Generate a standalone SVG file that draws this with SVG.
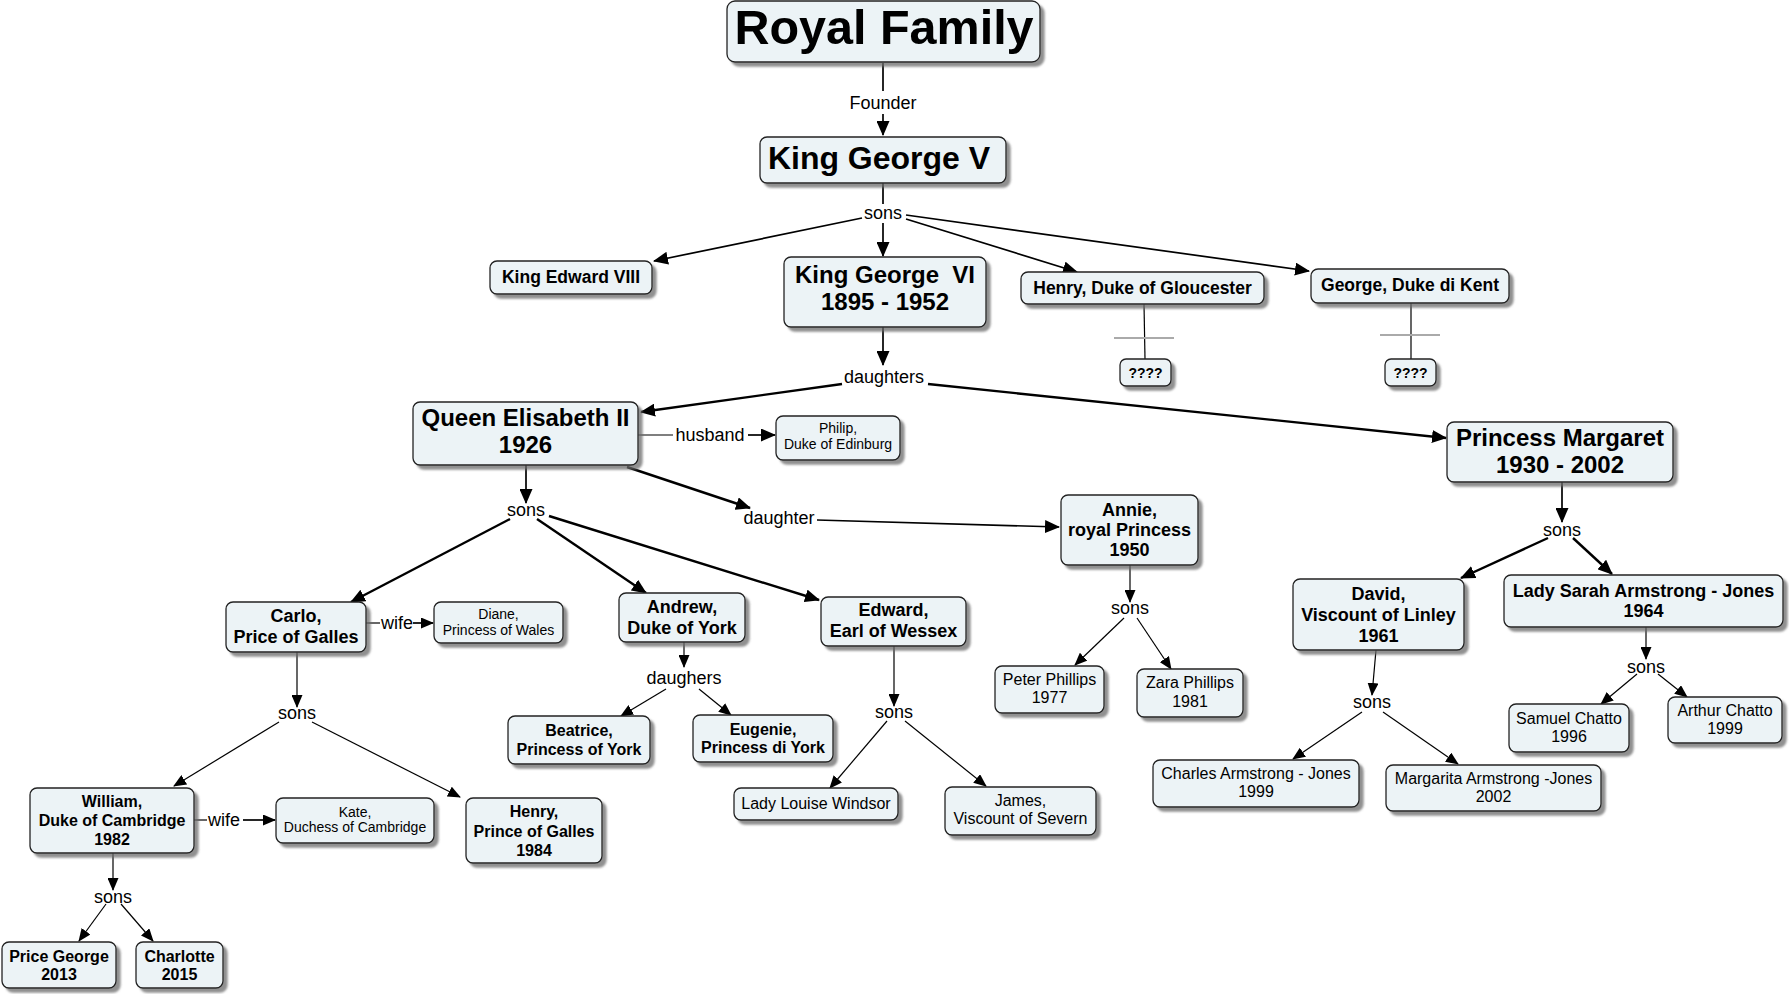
<svg xmlns="http://www.w3.org/2000/svg" width="1789" height="994" viewBox="0 0 1789 994">
<defs>
<filter id="sh" x="-10%" y="-10%" width="130%" height="140%">
<feDropShadow dx="4" dy="4" stdDeviation="1" flood-color="#6a6a6a" flood-opacity="0.75"/>
</filter>
<marker id="ah" markerUnits="userSpaceOnUse" markerWidth="15" markerHeight="13" refX="14" refY="6.5" orient="auto"><path d="M0,0 L15,6.5 L0,13 z" fill="#000"/></marker>
<marker id="as" markerUnits="userSpaceOnUse" markerWidth="13" markerHeight="11" refX="12" refY="5.5" orient="auto"><path d="M0,0 L13,5.5 L0,11 z" fill="#000"/></marker>
<style>
.n rect{fill:#ecf3f6;stroke:#222;stroke-width:1.3;filter:url(#sh)}
text{font-family:"Liberation Sans",Arial,sans-serif;text-anchor:middle;fill:#000}
.b{font-weight:bold}
.l{font-size:18px}
.c line{stroke:#000;fill:none}
.t1{stroke-width:1.2}
.t2{stroke-width:1.7}
.t3{stroke-width:2.4}
.g{stroke:#aaa !important;stroke-width:2}
.ma{marker-end:url(#ah)}
.ms{marker-end:url(#as)}
</style>
</defs>
<rect width="1789" height="994" fill="#fff"/>
<g id="connectors" class="c">
<line class="t2" x1="883" y1="63" x2="883" y2="91"/>
<line class="t2 ma" x1="883" y1="114" x2="883" y2="135"/>
<line class="t2" x1="883" y1="183" x2="883" y2="204"/>
<line class="t2 ma" x1="862" y1="218" x2="654" y2="261"/>
<line class="t2 ma" x1="883" y1="223" x2="883" y2="256"/>
<line class="t2 ma" x1="906" y1="219" x2="1077" y2="272"/>
<line class="t2 ma" x1="906" y1="215" x2="1309" y2="271"/>
<line class="t1" x1="1144" y1="304" x2="1145" y2="359"/>
<line class="g" x1="1114" y1="338" x2="1174" y2="338"/>
<line class="t1" x1="1411" y1="303" x2="1411" y2="359"/>
<line class="g" x1="1380" y1="335" x2="1440" y2="335"/>
<line class="t2 ma" x1="883" y1="327" x2="883" y2="365"/>
<line class="t3 ma" x1="842" y1="384" x2="641" y2="412"/>
<line class="t3 ma" x1="928" y1="384" x2="1446" y2="438"/>
<line class="t1" x1="638" y1="435" x2="673" y2="435"/>
<line class="t2 ma" x1="748" y1="435" x2="775" y2="435"/>
<line class="t2 ma" x1="526" y1="465" x2="526" y2="503"/>
<line class="t3 ma" x1="627" y1="467" x2="750" y2="508"/>
<line class="t2 ma" x1="817" y1="520" x2="1059" y2="527"/>
<line class="t3 ma" x1="510" y1="519" x2="351" y2="602"/>
<line class="t3 ma" x1="537" y1="519" x2="646" y2="593"/>
<line class="t3 ma" x1="549" y1="516" x2="819" y2="600"/>
<line class="t2 ma" x1="1562" y1="482" x2="1562" y2="522"/>
<line class="t3 ma" x1="1548" y1="538" x2="1461" y2="578"/>
<line class="t3 ma" x1="1573" y1="538" x2="1612" y2="574"/>
<line class="t1" x1="366" y1="623" x2="380" y2="623"/>
<line class="t2 ms" x1="413" y1="623" x2="433" y2="623"/>
<line class="t1 ms" x1="297" y1="652" x2="297" y2="707"/>
<line class="t1 ms" x1="279" y1="722" x2="174" y2="786"/>
<line class="t1 ms" x1="312" y1="722" x2="460" y2="797"/>
<line class="t1 ms" x1="684" y1="642" x2="684" y2="667"/>
<line class="t1 ms" x1="666" y1="689" x2="621" y2="716"/>
<line class="t1 ms" x1="699" y1="689" x2="731" y2="715"/>
<line class="t1 ms" x1="894" y1="646" x2="894" y2="706"/>
<line class="t1 ms" x1="887" y1="721" x2="830" y2="788"/>
<line class="t1 ms" x1="905" y1="721" x2="986" y2="786"/>
<line class="t1 ms" x1="1130" y1="565" x2="1130" y2="602"/>
<line class="t1 ms" x1="1124" y1="618" x2="1075" y2="665"/>
<line class="t1 ms" x1="1137" y1="618" x2="1171" y2="669"/>
<line class="t1 ms" x1="1376" y1="650" x2="1372" y2="695"/>
<line class="t1 ms" x1="1362" y1="712" x2="1293" y2="759"/>
<line class="t1 ms" x1="1383" y1="712" x2="1458" y2="764"/>
<line class="t1 ms" x1="1646" y1="627" x2="1646" y2="659"/>
<line class="t1 ms" x1="1637" y1="674" x2="1601" y2="704"/>
<line class="t1 ms" x1="1658" y1="674" x2="1687" y2="697"/>
<line class="t1" x1="194" y1="820" x2="207" y2="820"/>
<line class="t2 ms" x1="243" y1="820" x2="275" y2="820"/>
<line class="t1 ms" x1="113" y1="853" x2="113" y2="890"/>
<line class="t1 ms" x1="106" y1="904" x2="79" y2="941"/>
<line class="t1 ms" x1="121" y1="904" x2="153" y2="941"/>
</g>
<g id="labels" class="l">
<text x="883" y="109">Founder</text>
<text x="883" y="219">sons</text>
<text x="884" y="383">daughters</text>
<text x="710" y="441">husband</text>
<text x="526" y="516">sons</text>
<text x="779" y="524">daughter</text>
<text x="1562" y="536">sons</text>
<text x="397" y="629">wife</text>
<text x="297" y="719">sons</text>
<text x="684" y="684">daughers</text>
<text x="894" y="718">sons</text>
<text x="1130" y="614">sons</text>
<text x="1372" y="708">sons</text>
<text x="1646" y="673">sons</text>
<text x="224" y="826">wife</text>
<text x="113" y="903">sons</text>
</g>
<g id="royal" class="n"><rect x="727" y="1" width="313" height="61" rx="8"/><text class="b" x="884" y="44" font-size="48.5">Royal Family</text></g>
<g id="kgv" class="n"><rect x="760" y="137" width="246" height="46" rx="7"/><text class="b" x="879" y="169" font-size="32">King George V</text></g>
<g id="ke8" class="n"><rect x="490" y="261" width="162" height="33" rx="7"/><text class="b" x="571" y="283" font-size="17.5">King Edward VIII</text></g>
<g id="kg6" class="n"><rect x="784" y="257" width="202" height="70" rx="7"/><text class="b" font-size="24" style="white-space:pre"><tspan x="885" y="283">King George  VI</tspan><tspan x="885" y="310">1895 - 1952</tspan></text></g>
<g id="henryG" class="n"><rect x="1021" y="272" width="243" height="32" rx="7"/><text class="b" x="1142.5" y="294" font-size="17.5">Henry, Duke of Gloucester</text></g>
<g id="georgeK" class="n"><rect x="1311" y="269" width="198" height="34" rx="7"/><text class="b" x="1410" y="291" font-size="17.5">George, Duke di Kent</text></g>
<g id="q1" class="n"><rect x="1120" y="359" width="51" height="27" rx="6"/><text class="b" x="1145.5" y="378" font-size="14">????</text></g>
<g id="q2" class="n"><rect x="1385" y="359" width="51" height="27" rx="6"/><text class="b" x="1410.5" y="378" font-size="14">????</text></g>
<g id="queen" class="n"><rect x="413" y="402" width="225" height="63" rx="7"/><text class="b" font-size="24"><tspan x="525.5" y="426">Queen Elisabeth II</tspan><tspan x="525.5" y="453">1926</tspan></text></g>
<g id="philip" class="n"><rect x="776" y="416" width="124" height="44" rx="7"/><text font-size="14"><tspan x="838" y="433">Philip,</tspan><tspan x="838" y="449">Duke of Edinburg</tspan></text></g>
<g id="margaret" class="n"><rect x="1447" y="422" width="226" height="60" rx="7"/><text class="b" font-size="24"><tspan x="1560" y="446">Princess Margaret</tspan><tspan x="1560" y="473">1930 - 2002</tspan></text></g>
<g id="annie" class="n"><rect x="1061" y="495" width="137" height="70" rx="7"/><text class="b" font-size="18"><tspan x="1129.5" y="516">Annie,</tspan><tspan x="1129.5" y="536">royal Princess</tspan><tspan x="1129.5" y="556">1950</tspan></text></g>
<g id="carlo" class="n"><rect x="226" y="602" width="140" height="50" rx="7"/><text class="b" font-size="18"><tspan x="296" y="622">Carlo,</tspan><tspan x="296" y="643">Price of Galles</tspan></text></g>
<g id="diane" class="n"><rect x="434" y="602" width="129" height="41" rx="7"/><text font-size="14"><tspan x="498.5" y="619">Diane,</tspan><tspan x="498.5" y="635">Princess of Wales</tspan></text></g>
<g id="andrew" class="n"><rect x="619" y="593" width="126" height="49" rx="7"/><text class="b" font-size="18"><tspan x="682" y="613">Andrew,</tspan><tspan x="682" y="634">Duke of York</tspan></text></g>
<g id="edward" class="n"><rect x="821" y="597" width="145" height="49" rx="7"/><text class="b" font-size="18"><tspan x="893.5" y="616">Edward,</tspan><tspan x="893.5" y="637">Earl of Wessex</tspan></text></g>
<g id="david" class="n"><rect x="1293" y="579" width="171" height="71" rx="7"/><text class="b" font-size="18"><tspan x="1378.5" y="600">David,</tspan><tspan x="1378.5" y="621">Viscount of Linley</tspan><tspan x="1378.5" y="642">1961</tspan></text></g>
<g id="sarah" class="n"><rect x="1504" y="575" width="279" height="52" rx="7"/><text class="b" font-size="18"><tspan x="1643.5" y="597">Lady Sarah Armstrong - Jones</tspan><tspan x="1643.5" y="617">1964</tspan></text></g>
<g id="peter" class="n"><rect x="995" y="666" width="109" height="47" rx="7"/><text font-size="16"><tspan x="1049.5" y="685">Peter Phillips</tspan><tspan x="1049.5" y="703">1977</tspan></text></g>
<g id="zara" class="n"><rect x="1137" y="669" width="106" height="48" rx="7"/><text font-size="16"><tspan x="1190" y="688">Zara Phillips</tspan><tspan x="1190" y="707">1981</tspan></text></g>
<g id="beatrice" class="n"><rect x="508" y="716" width="142" height="48" rx="7"/><text class="b" font-size="16"><tspan x="579" y="736">Beatrice,</tspan><tspan x="579" y="755">Princess of York</tspan></text></g>
<g id="eugenie" class="n"><rect x="693" y="715" width="140" height="47" rx="7"/><text class="b" font-size="16"><tspan x="763" y="735">Eugenie,</tspan><tspan x="763" y="753">Princess di York</tspan></text></g>
<g id="samuel" class="n"><rect x="1509" y="704" width="120" height="48" rx="7"/><text font-size="16"><tspan x="1569" y="724">Samuel Chatto</tspan><tspan x="1569" y="742">1996</tspan></text></g>
<g id="arthur" class="n"><rect x="1668" y="697" width="114" height="46" rx="7"/><text font-size="16"><tspan x="1725" y="716">Arthur Chatto</tspan><tspan x="1725" y="734">1999</tspan></text></g>
<g id="william" class="n"><rect x="30" y="788" width="164" height="65" rx="7"/><text class="b" font-size="16"><tspan x="112" y="807">William,</tspan><tspan x="112" y="826">Duke of Cambridge</tspan><tspan x="112" y="845">1982</tspan></text></g>
<g id="kate" class="n"><rect x="276" y="798" width="158" height="45" rx="7"/><text font-size="14"><tspan x="355" y="817">Kate,</tspan><tspan x="355" y="832">Duchess of Cambridge</tspan></text></g>
<g id="henryP" class="n"><rect x="466" y="798" width="136" height="65" rx="7"/><text class="b" font-size="16"><tspan x="534" y="817">Henry,</tspan><tspan x="534" y="837">Prince of Galles</tspan><tspan x="534" y="856">1984</tspan></text></g>
<g id="louise" class="n"><rect x="734" y="788" width="164" height="32" rx="7"/><text x="816" y="809" font-size="16">Lady Louise Windsor</text></g>
<g id="james" class="n"><rect x="945" y="787" width="151" height="48" rx="7"/><text font-size="16"><tspan x="1020.5" y="806">James,</tspan><tspan x="1020.5" y="824">Viscount of Severn</tspan></text></g>
<g id="charles" class="n"><rect x="1153" y="760" width="206" height="47" rx="7"/><text font-size="16"><tspan x="1256" y="779">Charles Armstrong - Jones</tspan><tspan x="1256" y="797">1999</tspan></text></g>
<g id="margarita" class="n"><rect x="1386" y="765" width="215" height="46" rx="7"/><text font-size="16"><tspan x="1493.5" y="784">Margarita Armstrong -Jones</tspan><tspan x="1493.5" y="802">2002</tspan></text></g>
<g id="pgeorge" class="n"><rect x="2" y="942" width="114" height="46" rx="7"/><text class="b" font-size="16"><tspan x="59" y="962">Price George</tspan><tspan x="59" y="980">2013</tspan></text></g>
<g id="charlotte" class="n"><rect x="136" y="942" width="87" height="46" rx="7"/><text class="b" font-size="16"><tspan x="179.5" y="962">Charlotte</tspan><tspan x="179.5" y="980">2015</tspan></text></g>
</svg>
